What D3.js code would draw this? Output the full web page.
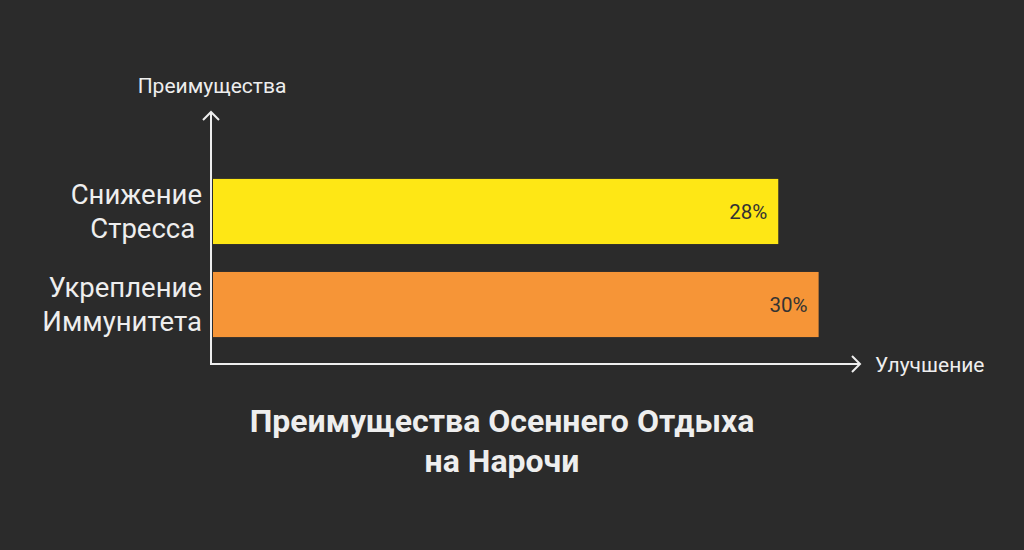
<!DOCTYPE html>
<html>
<head>
<meta charset="utf-8">
<script src="https://cdn.jsdelivr.net/npm/d3@7"></script>
<style>
  html, body { margin: 0; padding: 0; background: #2b2b2b; }
  svg { display: block; font-family: Roboto, "Noto Sans", sans-serif; }
</style>
</head>
<body>
<svg id="chart" width="1024" height="550"></svg>
<script>
// Chart data
const categories = [["Снижение", "Стресса "], ["Укрепление", "Иммунитета"]];
const values = [28, 30];
const barColors = ["#fee715", "#f69537"];
const valueLabels = ["28%", "30%"];
const xDomain = [0, 32];
const titleLines = ["Преимущества Осеннего Отдыха", "на Нарочи"];
const yAxisTitle = "Преимущества";
const xAxisTitle = "Улучшение";

const svg = d3.select("#chart");
svg.append("rect").attr("width", 1024).attr("height", 550).attr("fill", "#2b2b2b");

const axisX = 211, axisY = 364;
const x = d3.scaleLinear().domain(xDomain).range([213, 859]);
const y = d3.scaleBand().domain(d3.range(values.length)).range([151, 365]).padding(0.3);

// Bars
svg.selectAll("rect.bar").data(values).join("rect")
  .attr("class", "bar")
  .attr("x", x(0))
  .attr("y", (d, i) => y(i))
  .attr("width", d => x(d) - x(0))
  .attr("height", y.bandwidth())
  .attr("fill", (d, i) => barColors[i]);

// Value labels inside bar ends
svg.selectAll("text.val").data(values).join("text")
  .attr("class", "val")
  .attr("x", d => x(d) - 11)
  .attr("y", (d, i) => y(i) + y.bandwidth() / 2)
  .attr("dy", "0.35em")
  .attr("text-anchor", "end")
  .attr("font-size", 20.5)
  .attr("fill", "#333333")
  .text((d, i) => valueLabels[i]);

// Category labels (two lines each)
categories.forEach((lines, i) => {
  const cy = y(i) + y.bandwidth() / 2;
  const t = svg.append("text")
    .attr("text-anchor", "end")
    .attr("font-size", 27.5)
    .attr("fill", "#eeeeee")
    .attr("xml:space", "preserve");
  lines.forEach((ln, j) => {
    t.append("tspan")
      .attr("x", 202)
      .attr("y", cy + (j - (lines.length - 1) / 2) * 34)
      .attr("dy", "0.35em")
      .text(ln);
  });
});

// Axes with arrowheads
const axisColor = "#eeeeee";
svg.append("path")
  .attr("d", `M${axisX},112 L${axisX},${axisY} L860,${axisY}`)
  .attr("fill", "none").attr("stroke", axisColor).attr("stroke-width", 2);
svg.append("path")
  .attr("d", `M${axisX - 8},120 L${axisX},112 L${axisX + 8},120`)
  .attr("fill", "none").attr("stroke", axisColor).attr("stroke-width", 2);
svg.append("path")
  .attr("d", `M852,${axisY - 8} L860,${axisY} L852,${axisY + 8}`)
  .attr("fill", "none").attr("stroke", axisColor).attr("stroke-width", 2);

// Axis titles
svg.append("text")
  .attr("x", 212).attr("y", 86).attr("dy", "0.35em")
  .attr("text-anchor", "middle").attr("font-size", 21).attr("fill", "#eeeeee")
  .text(yAxisTitle);
svg.append("text")
  .attr("x", 875).attr("y", 365).attr("dy", "0.35em")
  .attr("text-anchor", "start").attr("font-size", 21).attr("fill", "#eeeeee")
  .text(xAxisTitle);

// Title
const title = svg.append("text")
  .attr("text-anchor", "middle").attr("font-size", 32).attr("font-weight", "bold")
  .attr("fill", "#eeeeee");
titleLines.forEach((ln, j) => {
  title.append("tspan").attr("x", 502).attr("y", 432 + j * 40).text(ln);
});
</script>
</body>
</html>
